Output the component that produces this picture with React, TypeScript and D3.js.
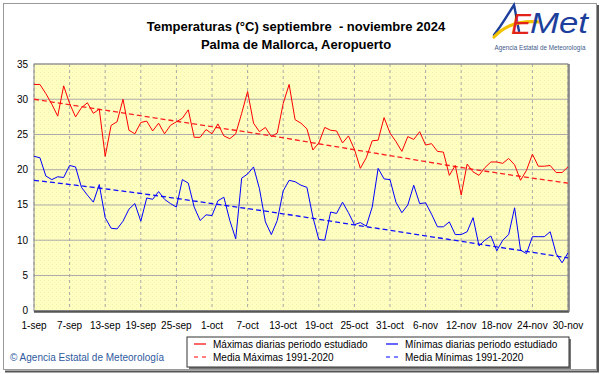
import React from 'react';
import * as d3 from 'd3';

// Daily maximum temperatures, 1-sep .. 30-nov 2024 (91 days)
const maxDaily = [
  32.1, 32.1, 30.8, 29.3, 27.6, 31.9, 29.4, 27.5, 28.8, 29.5,
  28.0, 28.6, 21.9, 26.3, 26.8, 30.0, 25.6, 25.1, 26.7, 26.9,
  25.5, 26.6, 25.1, 26.3, 26.8, 27.3, 28.5, 24.6, 24.6, 25.7,
  25.1, 26.5, 24.8, 24.4, 25.1, 28.0, 31.1, 26.6, 25.4, 26.0,
  24.7, 25.2, 29.4, 32.1, 27.1, 26.6, 25.8, 22.8, 23.8, 26.0,
  25.6, 25.5, 23.8, 24.8, 22.9, 20.2, 21.7, 24.1, 24.2, 27.4,
  25.2, 24.0, 22.6, 24.7, 24.3, 25.4, 23.5, 23.7, 22.6, 22.5,
  19.2, 20.6, 16.4, 20.8, 19.7, 19.2, 20.3, 21.1, 21.1, 20.9,
  21.6, 20.7, 18.5, 19.9, 22.2, 20.5, 20.5, 20.6, 19.6, 19.6,
  20.4,
];

// Daily minimum temperatures
const minDaily = [
  21.9, 21.7, 19.1, 18.6, 19.0, 18.9, 20.6, 20.4, 17.5, 16.4,
  15.4, 17.9, 13.2, 11.7, 11.6, 12.7, 14.4, 15.2, 12.7, 16.0,
  15.8, 16.9, 15.8, 15.2, 14.7, 18.6, 18.1, 14.7, 12.8, 13.6,
  13.5, 15.6, 16.1, 12.8, 10.2, 18.8, 19.4, 20.4, 17.3, 12.6,
  10.8, 12.8, 17.0, 18.5, 18.3, 17.8, 17.5, 13.3, 10.1, 10.0,
  14.0, 13.8, 15.4, 13.9, 12.2, 12.5, 12.0, 14.7, 20.2, 18.7,
  18.6, 15.4, 13.9, 15.0, 17.8, 15.2, 15.3, 13.7, 11.9, 11.9,
  12.6, 10.8, 10.8, 11.2, 13.2, 9.2, 10.0, 10.6, 8.5, 10.0,
  10.8, 14.6, 8.6, 8.1, 10.5, 10.5, 10.5, 11.2, 8.1, 6.8,
  8.2,
];

// Climatological means 1991-2020 (read at day offsets)
const meanDays = [0, 10, 20, 30, 40, 50, 60, 70, 80, 90];
const meanMax = [30.0, 28.7, 27.4, 26.1, 24.8, 23.4, 22.0, 20.6, 19.3, 18.1];
const meanMin = [18.5, 17.5, 16.4, 15.2, 14.0, 12.7, 11.4, 10.1, 8.8, 7.5];

const xTickLabels = [
  '1-sep', '7-sep', '13-sep', '19-sep', '25-sep', '1-oct', '7-oct', '13-oct',
  '19-oct', '25-oct', '31-oct', '6-nov', '12-nov', '18-nov', '24-nov', '30-nov',
];
const xTickStep = 6;
const yTicks = [0, 5, 10, 15, 20, 25, 30, 35];

const titleLines = ['Temperaturas (°C) septiembre  - noviembre 2024', 'Palma de Mallorca, Aeropuerto'];
const legendItems = [
  { label: 'Máximas diarias periodo estudiado', color: '#ff0000', dashed: false },
  { label: 'Mínimas diarias periodo estudiado', color: '#0000ff', dashed: false },
  { label: 'Media Máximas 1991-2020', color: '#ff0000', dashed: true },
  { label: 'Media Mínimas 1991-2020', color: '#0000ff', dashed: true },
];

const FONT = "'Liberation Sans', Arial, sans-serif";

export default function App() {
  const W = 601;
  const H = 374;
  const left = 34;
  const right = 568;
  const top = 64;
  const bottom = 310.7;

  const x = d3.scaleLinear().domain([0, maxDaily.length - 1]).range([left, right]);
  const y = d3.scaleLinear().domain([0, 35]).range([bottom, top]);

  const daily = d3.line<number>().x((_, i) => x(i)).y((d) => y(d));
  const mean = d3.line<number>().x((_, i) => x(meanDays[i])).y((d) => y(d)).curve(d3.curveMonotoneX);

  const legendX = 187;
  const legendY = 337;
  const legendW = 382;
  const legendH = 30;
  const colX = [194, 386];
  const rowY = [347.5, 360.5];

  return (
    <svg
      width={W}
      height={H}
      viewBox={`0 0 ${W} ${H}`}
      style={{ position: 'absolute', left: 0, top: 0, background: '#fff' }}
      fontFamily={FONT}
    >
      <defs>
        <pattern id="dots" width="4" height="4" patternUnits="userSpaceOnUse">
          <rect width="4" height="4" fill="#ffffc0" />
          <rect x="0" y="0" width="1" height="1" fill="#f3ecb4" />
          <rect x="2" y="2" width="1" height="1" fill="#f8f2c0" />
        </pattern>
      </defs>

      {/* outer frame */}
      <rect x={0} y={0} width={W} height={H} fill="#ffffff" />
      <rect x={3.5} y={3.5} width={593} height={366} fill="none" stroke="#9a9a9a" strokeWidth={1} />
      <line x1={598} y1={5} x2={598} y2={372} stroke="#555" strokeWidth={2} />
      <line x1={5} y1={371.5} x2={599} y2={371.5} stroke="#555" strokeWidth={2} />

      {/* title */}
      {titleLines.map((t, i) => (
        <text
          key={i}
          x={296}
          y={31 + i * 18}
          textAnchor="middle"
          fontSize={13}
          fontWeight="bold"
          fill="#000"
          style={{ whiteSpace: 'pre' }}
        >
          {t}
        </text>
      ))}

      {/* logo */}
      <g>
        <path d="M494 35 C502 25 508 14 514 5 C516 14 517 22 519 31" fill="none" stroke="#1d3f9c" strokeWidth={2.4} strokeLinecap="round" />
        <path d="M494 37 C504 26 520 20 540 22" fill="none" stroke="#f2c200" strokeWidth={3.2} strokeLinecap="round" />
        <text x={511} y={34} fontSize={30} fontStyle="italic" fill="#e2231a" fontFamily={FONT}>E</text>
        <text x={530} y={33} fontSize={29} fontStyle="italic" fill="#1d3f9c" fontFamily={FONT} textLength={58} lengthAdjust="spacingAndGlyphs">Met</text>
        <text x={540} y={50} fontSize={6.3} textAnchor="middle" fill="#3d5a8a">Agencia Estatal de Meteorología</text>
      </g>

      {/* plot background */}
      <rect x={left} y={top} width={right - left} height={bottom - top} fill="url(#dots)" />

      {/* horizontal grid */}
      {yTicks.map((t) => (
        <line key={`h${t}`} x1={left} x2={right} y1={y(t)} y2={y(t)} stroke="#ababab" strokeWidth={1} />
      ))}
      {/* vertical grid */}
      {xTickLabels.map((_, i) => (
        <line
          key={`v${i}`}
          x1={x(i * xTickStep)}
          x2={x(i * xTickStep)}
          y1={top}
          y2={bottom}
          stroke="#a8a8a8"
          strokeWidth={1}
          strokeDasharray="3,3"
        />
      ))}

      {/* plot border */}
      <rect x={left} y={top} width={right - left} height={bottom - top} fill="none" stroke="#8a8a8a" strokeWidth={1} />
      <line x1={left} x2={right + 1} y1={bottom + 1} y2={bottom + 1} stroke="#555" strokeWidth={2} />
      <line x1={right + 1} x2={right + 1} y1={top} y2={bottom + 1} stroke="#777" strokeWidth={1.5} />

      {/* mean lines */}
      <path d={mean(meanMax) || ''} fill="none" stroke="#ff2020" strokeWidth={1.3} strokeDasharray="5,3" />
      <path d={mean(meanMin) || ''} fill="none" stroke="#1010ff" strokeWidth={1.3} strokeDasharray="5,3" />

      {/* daily lines */}
      <path d={daily(maxDaily) || ''} fill="none" stroke="#ff0000" strokeWidth={1} />
      <path d={daily(minDaily) || ''} fill="none" stroke="#0000ff" strokeWidth={1} />

      {/* y axis labels */}
      {yTicks.map((t) => (
        <text key={`yl${t}`} x={28} y={y(t) + 3.5} textAnchor="end" fontSize={10} fill="#000">
          {t}
        </text>
      ))}
      {/* x axis labels */}
      {xTickLabels.map((lab, i) => (
        <text key={`xl${i}`} x={x(i * xTickStep)} y={329} textAnchor="middle" fontSize={10} fill="#000">
          {lab}
        </text>
      ))}

      {/* legend */}
      <rect x={legendX + 2} y={legendY + 2} width={legendW} height={legendH} fill="#777" />
      <rect x={legendX} y={legendY} width={legendW} height={legendH} fill="#fff" stroke="#333" strokeWidth={1} />
      {legendItems.map((it, i) => {
        const cx = colX[i % 2];
        const cy = rowY[Math.floor(i / 2)];
        return (
          <g key={`lg${i}`}>
            <line
              x1={cx}
              x2={cx + 12}
              y1={cy - 3.5}
              y2={cy - 3.5}
              stroke={it.color}
              strokeWidth={1.2}
              strokeDasharray={it.dashed ? '4,4' : undefined}
            />
            <text x={cx + 19} y={cy} fontSize={10} fill="#000">
              {it.label}
            </text>
          </g>
        );
      })}

      {/* copyright */}
      <text x={10} y={361} fontSize={10} fill="#2f5a9e">
        © Agencia Estatal de Meteorología
      </text>
    </svg>
  );
}
